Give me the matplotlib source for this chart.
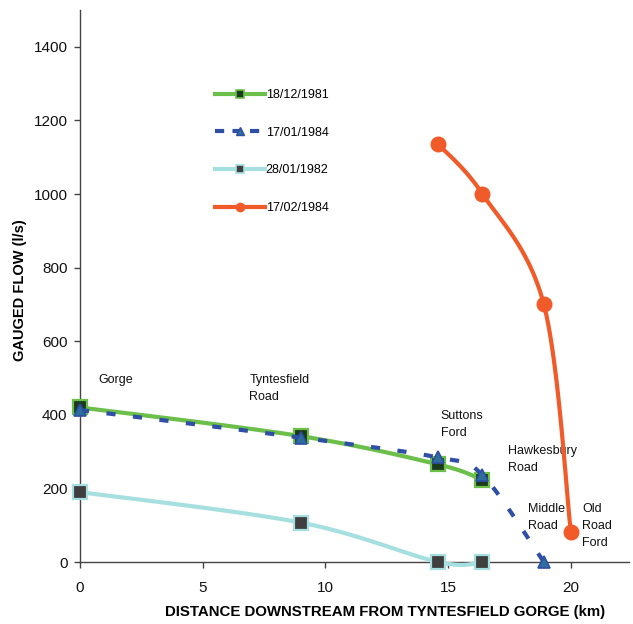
import numpy as np
import matplotlib
matplotlib.use("Agg")
import matplotlib.pyplot as plt
from matplotlib.lines import Line2D

plt.rcParams['font.family'] = ['Liberation Sans', 'DejaVu Sans']

# ---- data ----
dist_main = [0, 9, 14.6, 16.4]
flow_1981_12 = [420, 342, 265, 223]
dist_1984_01 = [0, 9, 14.6, 16.4, 18.9]
flow_1984_01 = [413, 338, 284, 236, 0]
dist_1982 = [0, 9, 14.6, 16.4]
flow_1982 = [190, 107, 0, 0]
dist_1984_02 = [14.6, 16.4, 18.9, 20.0]
flow_1984_02 = [1135, 1000, 700, 82]

labels = ['18/12/1981', '17/01/1984', '28/01/1982', '17/02/1984']
sites = ['Gorge', 'Tyntesfield\nRoad', 'Suttons\nFord', 'Hawkesbury\nRoad', 'Middle\nRoad', 'Old\nRoad\nFord']
site_x = [0.75, 6.9, 14.7, 17.45, 18.25, 20.45]
site_y = [510, 510, 412, 318, 160, 160]

xticks = [0, 5, 10, 15, 20]
yticks = [0, 200, 400, 600, 800, 1000, 1200, 1400]

W, H = 633, 624
fig = plt.figure(figsize=(W / 100, H / 100), dpi=100)
ax = fig.add_axes([80 / W, (H - 562) / H, (629 - 80) / W, (562 - 10) / H])
ax.set_xlim(0, 22.37)
ax.set_ylim(0, 1500)

# scale factors (pixels per unit) used for Excel-like smoothing
SX, SY = 24.55, 0.368


def smooth(xs, ys, n=40):
    P = np.column_stack([np.asarray(xs, float) * SX, np.asarray(ys, float) * SY])
    m = len(P)
    out = [P[0]]
    for i in range(m - 1):
        p0 = P[i - 1] if i > 0 else P[i]
        p1 = P[i]
        p2 = P[i + 1]
        p3 = P[i + 2] if i + 2 < m else P[i + 1]
        c1 = p1 + (p2 - p0) / 6.0
        c2 = p2 - (p3 - p1) / 6.0
        t = np.linspace(0, 1, n)[1:, None]
        seg = ((1 - t) ** 3) * p1 + 3 * ((1 - t) ** 2) * t * c1 + 3 * (1 - t) * t ** 2 * c2 + t ** 3 * p2
        out.extend(seg)
    out = np.array(out)
    return out[:, 0] / SX, out[:, 1] / SY


green = '#6cc04a'
green_face = '#1c3a1f'
lblue = '#a6dfe0'
gray_face = '#3f3f3f'
dblue = '#2f4ea6'
tri_face = '#2d6f9a'
orange = '#f15a29'

# green 18/12/1981
sx, sy = smooth(dist_main, flow_1981_12)
ax.plot(sx, sy, color=green, lw=3.0, solid_capstyle='butt', zorder=3, clip_on=False)
ax.plot(dist_main, flow_1981_12, ls='none', marker='s', ms=10.5, mfc=green_face,
        mec=green, mew=1.6, zorder=4, clip_on=False)

# light blue 28/01/1982
sx, sy = smooth(dist_1982, flow_1982)
ax.plot(sx, sy, color=lblue, lw=3.0, solid_capstyle='butt', zorder=3, clip_on=False)
ax.plot(dist_1982, flow_1982, ls='none', marker='s', ms=10.5, mfc=gray_face,
        mec=lblue, mew=1.6, zorder=4, clip_on=False)

# blue dashed 17/01/1984
sx, sy = smooth(dist_1984_01, flow_1984_01)
ax.plot(sx, sy, color=dblue, lw=3.0, dashes=(2.2, 4.2), dash_capstyle='butt', zorder=5, clip_on=False)
ax.plot(dist_1984_01, flow_1984_01, ls='none', marker='^', ms=8, mfc=tri_face,
        mec=dblue, mew=1.2, zorder=6, clip_on=False)

# orange 17/02/1984
sx, sy = smooth(dist_1984_02, flow_1984_02)
ax.plot(sx, sy, color=orange, lw=3.0, solid_capstyle='butt', zorder=5, clip_on=False)
ax.plot(dist_1984_02, flow_1984_02, ls='none', marker='o', ms=10.5, mfc=orange,
        mec=orange, zorder=6, clip_on=False)

for s, x, y in zip(sites, site_x, site_y):
    ax.text(x, y, s, fontsize=9, va='top', ha='left', linespacing=1.55, color='#111111')

# axes styling
for sp in ['top', 'right']:
    ax.spines[sp].set_visible(False)
for sp in ['left', 'bottom']:
    ax.spines[sp].set_color('#444444')
    ax.spines[sp].set_linewidth(1.0)
ax.set_xticks(xticks)
ax.set_yticks(yticks)
ax.tick_params(axis='both', direction='out', length=4, width=1, color='#444444',
               labelsize=11, pad=5, labelcolor='#111111')
ax.tick_params(axis='x', pad=10)
ax.set_xlabel('DISTANCE DOWNSTREAM FROM TYNTESFIELD GORGE (km)', fontsize=10.8,
              fontweight='bold')
ax.xaxis.set_label_coords((385 - 80) / 549, -(612 - 562) / 552, transform=ax.transAxes)
ax.xaxis.label.set_va('center')
ax.set_ylabel('GAUGED FLOW (l/s)', fontsize=10.5, fontweight='bold')
ax.yaxis.set_label_coords((20 - 80) / 549, (562 - 290) / 552, transform=ax.transAxes)
ax.yaxis.label.set_va('center')

# legend
handles = [
    Line2D([], [], color=green, lw=3, marker='s', ms=6, mfc=green_face, mec=green, mew=1.2),
    Line2D([], [], color=dblue, lw=3, dashes=(2.2, 2.0), marker='^', ms=6, mfc=tri_face, mec=dblue),
    Line2D([], [], color=lblue, lw=3, marker='s', ms=6, mfc=gray_face, mec=lblue, mew=1.2),
    Line2D([], [], color=orange, lw=3, marker='o', ms=6, mfc=orange, mec=orange),
]
leg = fig.legend(handles, labels, loc='upper left', bbox_to_anchor=(215 / W, 1 - 89 / H),
                 frameon=False, fontsize=9, handlelength=4.0, handletextpad=0.05,
                 labelspacing=2.05, borderpad=0, borderaxespad=0)

fig.savefig('out.png', dpi=100)
